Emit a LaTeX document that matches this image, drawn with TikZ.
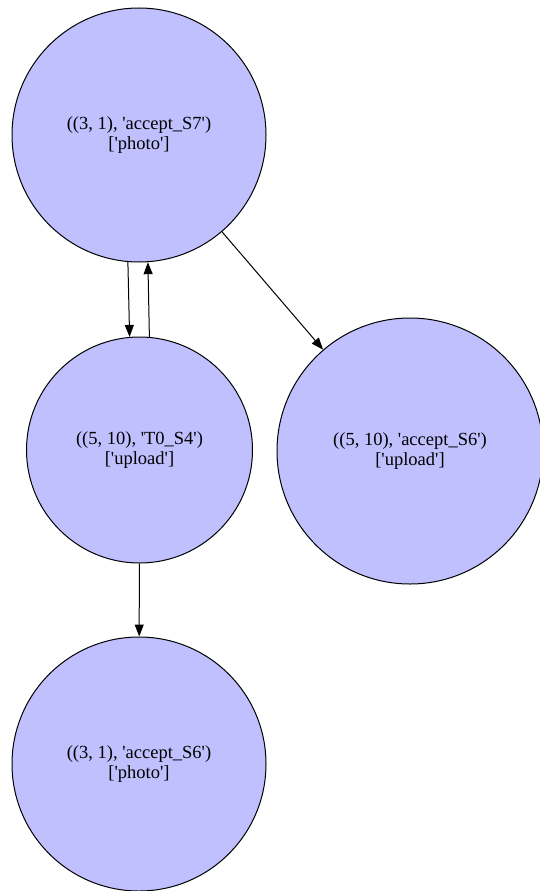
\documentclass[tikz,border=0pt]{standalone}
\usepackage{fontspec}
\setmainfont{Liberation Serif}[Ligatures=TeXOff]
\usetikzlibrary{arrows.meta}
\definecolor{nodefill}{RGB}{192,192,255}
\begin{document}
\begin{tikzpicture}[x=1pt,y=-1pt,
  state/.style={circle,draw=black,line width=1pt,fill=nodefill,inner sep=0pt,
    align=center,font=\fontsize{18.5}{19.5}\selectfont},
  edge/.style={draw=black,line width=1pt,-{Triangle[length=12pt,width=9pt]}}]
\useasboundingbox (0,0) rectangle (539,891);
\node[state,minimum size=254pt] (top) at (139,135) {((3, 1), 'accept\_S7')\\{[}'photo'{]}};
\node[state,minimum size=226pt] (mid) at (139.5,450) {((5, 10), 'T0\_S4')\\{[}'upload'{]}};
\node[state,minimum size=266pt] (right) at (410,451) {((5, 10), 'accept\_S6')\\{[}'upload'{]}};
\node[state,minimum size=254pt] (bot) at (139,764) {((3, 1), 'accept\_S6')\\{[}'photo'{]}};
\draw[edge] (top.265.5) -- (mid.95.1);
\draw[edge] (mid.85.4) -- (top.274.1);
\draw[edge] (top) -- (right);
\draw[edge] (mid) -- (bot);
\end{tikzpicture}
\end{document}
